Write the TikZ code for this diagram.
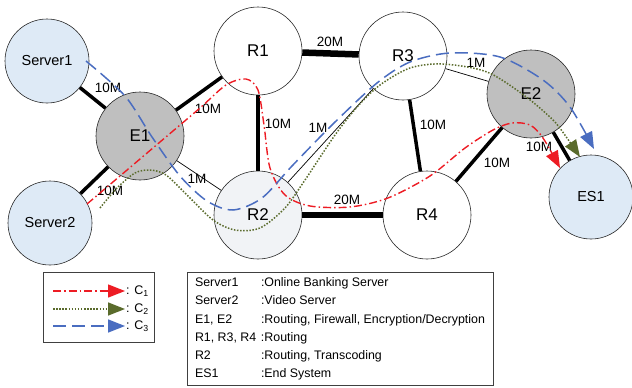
\documentclass[tikz,border=0pt]{standalone}
\usepackage{xcolor}
\usepackage{fontspec}
\setmainfont{Liberation Sans}
\usepackage{tikz}
\usetikzlibrary{arrows.meta}

\definecolor{srvblue}{HTML}{DEEAF6}
\definecolor{edgegray}{HTML}{BFBFBF}
\definecolor{trgray}{HTML}{F1F3F6}
\definecolor{cred}{HTML}{ED1C24}
\definecolor{cgreen}{HTML}{5A6B2C}
\definecolor{cblue}{HTML}{4A6DC0}

\begin{document}
\begin{tikzpicture}[
x=1pt, y=-1pt,
every node/.style={font=\fontsize{13.5}{15}\selectfont},
host/.style={
    circle,
    draw=black!85,
    line width=0.6pt,
    minimum size=84pt,
    inner sep=0pt,
    fill=srvblue,
    font=\fontsize{14.5}{16}\selectfont
},
router/.style={
    host,
    fill=white,
    minimum size=88pt,
    font=\fontsize{17}{19}\selectfont
},
edgebox/.style={router, fill=edgegray},
link/.style={line width=3.5pt},
fatlink/.style={line width=6.5pt},
thinlink/.style={line width=0.7pt},
lbl/.style={inner sep=1pt},
flowtip/.style={-{Triangle[length=17pt,width=13pt]}},
cone/.style={flowtip, cred, line width=1.4pt, dash pattern=on 8pt off 3pt on 1.5pt off 3pt},
ctwo/.style={flowtip, cgreen, line width=1.5pt, dash pattern=on 1.5pt off 1.6pt},
cthree/.style={flowtip, cblue, line width=1.5pt, dash pattern=on 13pt off 6pt},
legbox/.style={draw=black!75, line width=0.7pt, inner sep=0pt}
]
\useasboundingbox (0,0) rectangle (632,388);

% hosts, edge routers and core routers
\node (server1) [host] at (47,61) {Server1};
\node (server2) [host] at (50,223) {Server2};
\node (es1) [host] at (591,197) {ES1};
\node (e1) [edgebox] at (140,136) {E1};
\node (e2) [edgebox] at (531,94) {E2};
\node (r1) [router] at (258,51) {R1};
\node (r2) [router, fill=trgray] at (258,215) {R2};
\node (r3) [router] at (403,56) {R3};
\node (r4) [router] at (427,215) {R4};

% links
\draw [link] (server1) -- (e1);
\draw [link] (server2) -- (e1);
\draw [link] (e1) -- (r1);
\draw [thinlink] (e1) -- (r2);
\draw [link] (r1) -- (r2);
\draw [fatlink] (r1) -- (r3);
\draw [fatlink] (r2) -- (r4);
\draw [thinlink] (r2) -- (r3);
\draw [link] (r3) -- (r4);
\draw [thinlink] (r3) -- (e2);
\draw [link] (r4) -- (e2);
\draw [link] (e2) -- (es1);

% bandwidth labels
\node (bw-s1) [lbl] at (108,88) {10M};
\node (bw-s2) [lbl] at (110,191) {10M};
\node (bw-e1r1) [lbl] at (208,109) {10M};
\node (bw-e1r2) [lbl] at (197,179) {1M};
\node (bw-r1r2) [lbl] at (278,124) {10M};
\node (bw-r2r3) [lbl] at (318,128) {1M};
\node (bw-r1r3) [lbl] at (330,42) {20M};
\node (bw-r2r4) [lbl] at (347,200) {20M};
\node (bw-r3r4) [lbl] at (433,125) {10M};
\node (bw-r3e2) [lbl] at (476,63) {1M};
\node (bw-r4e2) [lbl] at (497,163) {10M};
\node (bw-es1) [lbl] at (539,147) {10M};

% flows
\draw [cone] plot[smooth, tension=0.5] coordinates {(87,204) (120,176) (160,142) (200,108) (226,85) (246,79) (258,90) (264,125) (270,168) (285,195) (310,206) (350,207) (388,198) (430,176) (465,148) (493,130) (512,123) (530,125) (543,138) (560,168)};
\draw [ctwo] plot[smooth, tension=0.5] coordinates {(100,208) (117,188) (135,173) (150,170) (166,175) (188,196) (213,220) (235,230) (260,228) (285,208) (305,180) (335,135) (358,106) (380,85) (410,68) (443,64) (487,72) (525,96) (553,120) (567,138) (580,157)};
\draw [cthree] plot[smooth, tension=0.5] coordinates {(86,61) (125,96) (152,137) (180,176) (207,201) (233,210) (262,198) (292,166) (333,124) (377,83) (410,62) (450,53) (500,57) (543,80) (570,107) (594,149)};

% legend
\node (legend) [legbox, minimum width=111pt, minimum height=70pt] at (98.5,307) {};
\coordinate (l1a) at (53,291);
\coordinate (l1b) at (125,291);
\coordinate (l2a) at (53,309);
\coordinate (l2b) at (125,309);
\coordinate (l3a) at (53,326);
\coordinate (l3b) at (125,326);
\draw [cone] (l1a) -- (l1b);
\draw [ctwo] (l2a) -- (l2b);
\draw [cthree] (l3a) -- (l3b);
\node (lc1) [anchor=west, inner sep=1pt, font=\fontsize{12.5}{14}\selectfont] at (l1b) {: C\textsubscript{1}};
\node (lc2) [anchor=west, inner sep=1pt, font=\fontsize{12.5}{14}\selectfont] at (l2b) {: C\textsubscript{2}};
\node (lc3) [anchor=west, inner sep=1pt, font=\fontsize{12.5}{14}\selectfont] at (l3b) {: C\textsubscript{3}};

\node (desc) [legbox, minimum width=306pt, minimum height=113pt, font=\fontsize{12.4}{18.3}\selectfont] at (340,328.5) {
\begin{tabular}{@{}p{66pt}@{}l@{}}
Server1 & :Online Banking Server\\
Server2 & :Video Server\\
E1, E2 & :Routing, Firewall, Encryption/Decryption\\
R1, R3, R4 & :Routing\\
R2 & :Routing, Transcoding\\
ES1 & :End System
\end{tabular}
};

\end{tikzpicture}
\end{document}
